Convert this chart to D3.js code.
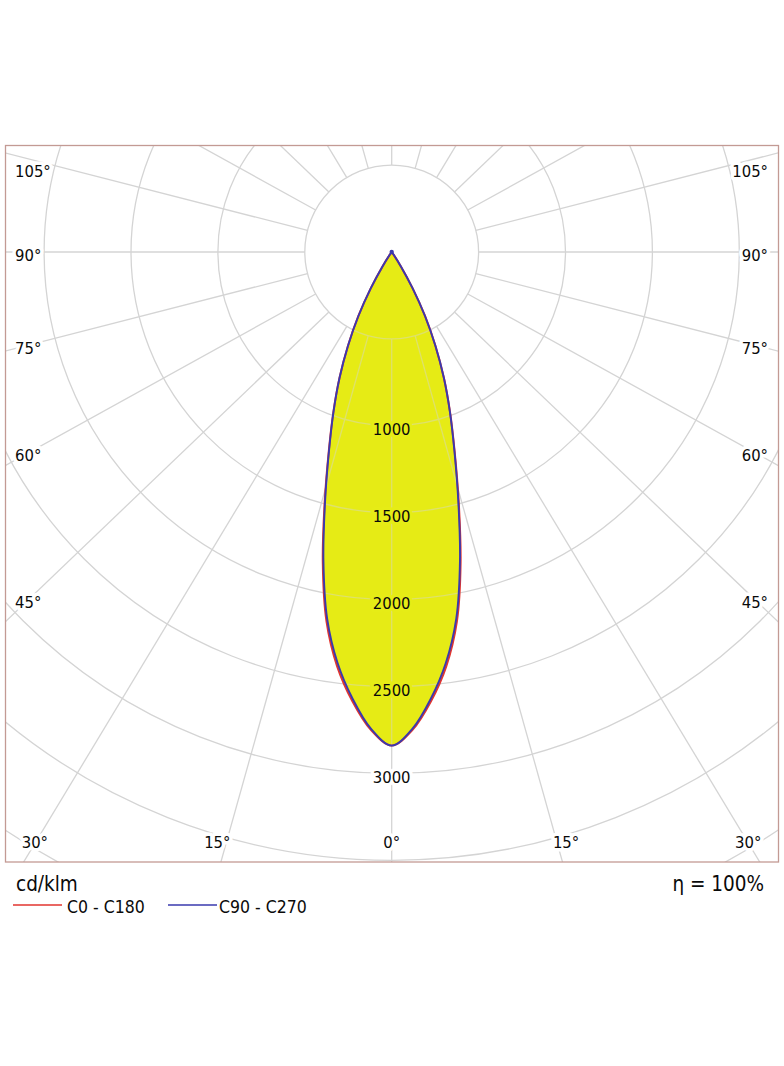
<!DOCTYPE html>
<html><head><meta charset="utf-8">
<script src="https://cdn.jsdelivr.net/npm/d3@7"></script>
<style>html,body{margin:0;padding:0;background:#fff;} svg{display:block;}</style>
</head><body>
<script>
// ---- data ----
const gammaDeg = [0, 2.5, 5, 7.5, 10, 12.5, 15, 17.5, 20, 22.5, 25, 27.5, 30, 32.5, 35, 37.5];
const c0c180   = [2840, 2752, 2595, 2405, 2160, 1832, 1490, 1205, 982, 785, 595, 415, 240, 100, 20, 0];
const c90c270  = [2840, 2745, 2580, 2385, 2140, 1815, 1480, 1200, 980, 785, 595, 415, 240, 100, 20, 0];
const ringValues = [500, 1000, 1500, 2000, 2500, 3000, 3500, 4000, 4500];
const ringLabels = [1000, 1500, 2000, 2500, 3000];
const spokeAngles = [0, 15, 30, 45, 60, 75, 90, 105, 120, 135, 150, 165, 180];
const angleLabels = [0, 15, 30, 45, 60, 75, 90, 105];
const seriesNames = ["C0 - C180", "C90 - C270"];
const unitLabel = "cd/klm";
const efficiencyLabel = "η = 100%";

// ---- layout ----
const W = 784, H = 1066;
const frame = {x: 5.5, y: 145.5, w: 773, h: 716.5};
const CX = 391.7, CY = 252;
const K = 1.045;               // slight horizontal stretch of the spokes as in the original
const r = d3.scaleLinear().domain([0, 1000]).range([0, 173.8]);
const FONT = "'DejaVu Sans Condensed', 'DejaVu Sans', sans-serif";
const GRID = "#d4d4d4";
const YELLOW = "#e6ec16";
const RED = "#e2352f", BLUE = "#3a3aae";
const TXT = "#0a0a0a";

const svg = d3.select("body").append("svg").attr("width", W).attr("height", H)
  .style("font-family", FONT);
const defs = svg.append("defs");
defs.append("clipPath").attr("id", "frameClip").append("rect")
  .attr("x", frame.x).attr("y", frame.y).attr("width", frame.w).attr("height", frame.h);

// lobe path builder
const lobePts = vals => {
  const pts = [];
  for (let i = gammaDeg.length - 1; i > 0; i--) pts.push([-gammaDeg[i], vals[i]]);
  for (let i = 0; i < gammaDeg.length; i++) pts.push([gammaDeg[i], vals[i]]);
  return pts;
};
const radial = d3.lineRadial()
  .angle(d => Math.PI - d[0] * Math.PI / 180)
  .radius(d => r(d[1]))
  .curve(d3.curveCatmullRom.alpha(0.5));
const lobePath = vals => radial(lobePts(vals)) + "Z";

defs.append("clipPath").attr("id", "lobeClip").append("path")
  .attr("transform", `translate(${CX},${CY})`).attr("d", lobePath(c0c180));

const spokeDir = a => {
  const t = a * Math.PI / 180;
  const ux = K * Math.sin(t), uy = Math.cos(t);
  const n = Math.hypot(ux, uy);
  return [ux / n, uy / n];
};

function drawGrid(g) {
  ringValues.forEach(v => {
    g.append("circle").attr("cx", CX).attr("cy", CY).attr("r", r(v))
      .attr("fill", "none").attr("stroke", GRID).attr("stroke-width", 1.3);
  });
  const r0 = r(ringValues[0]);
  [-1, 1].forEach(side => {
    spokeAngles.forEach(a => {
      if (side < 0 && (a === 0 || a === 180)) return;
      const [ux, uy] = spokeDir(a);
      g.append("line")
        .attr("x1", CX + side * ux * r0).attr("y1", CY + uy * r0)
        .attr("x2", CX + side * ux * 2000).attr("y2", CY + uy * 2000)
        .attr("stroke", GRID).attr("stroke-width", 1.3);
    });
  });
}

const plot = svg.append("g").attr("clip-path", "url(#frameClip)");
drawGrid(plot.append("g"));

// lobe fill
plot.append("path").attr("transform", `translate(${CX},${CY})`)
  .attr("d", lobePath(c0c180)).attr("fill", YELLOW).attr("stroke", "none");
// faint grid inside the lobe
const inner = plot.append("g").attr("clip-path", "url(#lobeClip)").attr("opacity", 0.45);
drawGrid(inner);

// lobe outlines
plot.append("path").attr("transform", `translate(${CX},${CY})`)
  .attr("d", lobePath(c0c180)).attr("fill", "none").attr("stroke", RED).attr("stroke-width", 2);
plot.append("path").attr("transform", `translate(${CX},${CY})`)
  .attr("d", lobePath(c90c270)).attr("fill", "none").attr("stroke", BLUE).attr("stroke-width", 1.9);
plot.append("circle").attr("cx", CX).attr("cy", CY).attr("r", 2.2).attr("fill", BLUE);

// ring labels
const fs = 16.5;
const maxAt0 = c0c180[0];
ringLabels.forEach(v => {
  const yc = CY + r(v) + 3.5;
  svg.append("text").attr("x", CX).attr("y", yc + 0.36 * fs)
    .attr("text-anchor", "middle").attr("font-size", fs).attr("fill", TXT)
    .attr("stroke", v < maxAt0 ? YELLOW : "#fff").attr("stroke-width", 7)
    .attr("stroke-linejoin", "round").attr("paint-order", "stroke")
    .text(v);
});

// angle labels
const xL = 29, xR = 754, yB = 842;
[-1, 1].forEach(side => {
  angleLabels.forEach(a => {
    if (side < 0 && a === 0) return;
    const [ux, uy] = spokeDir(a);
    const t = a === 0 ? Infinity : ((side < 0 ? CX - xL : xR - CX) / ux);
    const ySide = CY + t * uy;
    let x, y, anchor;
    if (a !== 0 && ySide <= yB) {
      y = Math.max(171, ySide + 3);
      x = side < 0 ? 15 : 768;
      anchor = side < 0 ? "start" : "end";
    } else {
      y = yB;
      const xi = CX + side * ((yB - CY) / uy) * ux;
      if (a === 0) { x = CX; anchor = "middle"; }
      else if (side < 0) { x = Math.max(15 + 33, xi + 4); anchor = "end"; }
      else { x = Math.min(768 - 33, xi - 4); anchor = "start"; }
    }
    svg.append("text").attr("x", x).attr("y", y + 0.36 * fs)
      .attr("text-anchor", anchor).attr("font-size", fs).attr("fill", TXT)
      .attr("stroke", "#fff").attr("stroke-width", 7)
      .attr("stroke-linejoin", "round").attr("paint-order", "stroke")
      .text(a + "°");
  });
});

// frame
svg.append("rect").attr("x", frame.x).attr("y", frame.y).attr("width", frame.w).attr("height", frame.h)
  .attr("fill", "none").attr("stroke", "#c39a94").attr("stroke-width", 1.3);

// legend / footer
svg.append("text").attr("x", 16).attr("y", 891).attr("font-size", 20.5).attr("fill", TXT).text(unitLabel);
svg.append("text").attr("x", 764).attr("y", 891).attr("font-size", 20.5).attr("fill", TXT)
  .attr("text-anchor", "end").text(efficiencyLabel);
const legendX = [13, 168];
[RED, BLUE].forEach((c, i) => {
  svg.append("line").attr("x1", legendX[i]).attr("x2", legendX[i] + 49)
    .attr("y1", 905).attr("y2", 905).attr("stroke", c).attr("stroke-width", 1.7);
  svg.append("text").attr("x", legendX[i] + (i === 0 ? 54 : 51)).attr("y", 913)
    .attr("font-size", 17.5).attr("fill", TXT).text(seriesNames[i]);
});
</script>
</body></html>
